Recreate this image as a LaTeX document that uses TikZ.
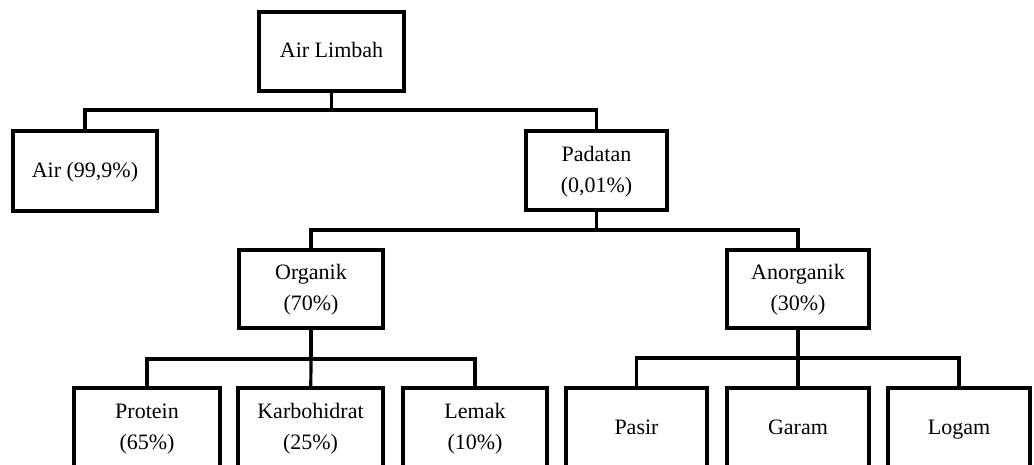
\documentclass[tikz,border=0pt]{standalone}
\usepackage{fontspec}
\setmainfont{Liberation Serif}
\begin{document}
\begin{tikzpicture}[x=1pt,y=1pt,
  box/.style={draw=black, fill=white, line width=3.2pt, rectangle, inner sep=0pt,
    align=center, text=black, font=\fontsize{22}{31}\selectfont},
  link/.style={draw=black, line width=3.2pt, line join=miter}]
\useasboundingbox (0,0) rectangle (1034,-465);
\clip (0,0) rectangle (1034,-465);
\fill[white] (0,0) rectangle (1034,-465);
% nodes
\node[box, minimum width=145pt, minimum height=79pt] (limbah) at (331.5,-51.5) {\strut Air Limbah};
\node[box, minimum width=144pt, minimum height=80pt] (air) at (85,-171) {\strut Air (99,9\%)};
\node[box, minimum width=141pt, minimum height=79pt] (padatan) at (596.5,-170.5) {\strut Padatan\\\strut(0,01\%)};
\node[box, minimum width=144pt, minimum height=78pt] (organik) at (311,-289) {\strut Organik\\\strut(70\%)};
\node[box, minimum width=142pt, minimum height=78pt] (anorganik) at (798,-289) {\strut Anorganik\\\strut(30\%)};
\node[box, minimum width=146pt, minimum height=80pt] (protein) at (147,-428) {\strut Protein\\\strut(65\%)};
\node[box, minimum width=145pt, minimum height=80pt] (karbo) at (310.5,-428) {\strut Karbohidrat\\\strut(25\%)};
\node[box, minimum width=144pt, minimum height=80pt] (lemak) at (475,-428) {\strut Lemak\\\strut(10\%)};
\node[box, minimum width=141pt, minimum height=80pt] (pasir) at (636.5,-428) {\strut Pasir};
\node[box, minimum width=142pt, minimum height=80pt] (garam) at (798,-428) {\strut Garam};
\node[box, minimum width=142pt, minimum height=80pt] (logam) at (959,-428) {\strut Logam};
% junctions
\coordinate (j1) at (331.5,-110);
\coordinate (j2) at (596.5,-230);
\coordinate (j3) at (311,-359);
\coordinate (j4) at (798,-358);
% connectors
\draw[link] (limbah) -- (j1);
\draw[link] (j1) -| (air);
\draw[link] (j1) -| (padatan);
\draw[link] (padatan) -- (j2);
\draw[link] (j2) -| (organik);
\draw[link] (j2) -| (anorganik);
\draw[link] (organik) -- (j3);
\draw[link] (j3) -| (protein);
\draw[link] (j3) -- (karbo);
\draw[link] (j3) -| (lemak);
\draw[link] (anorganik) -- (j4);
\draw[link] (j4) -| (pasir);
\draw[link] (j4) -- (garam);
\draw[link] (j4) -| (logam);
\end{tikzpicture}
\end{document}
